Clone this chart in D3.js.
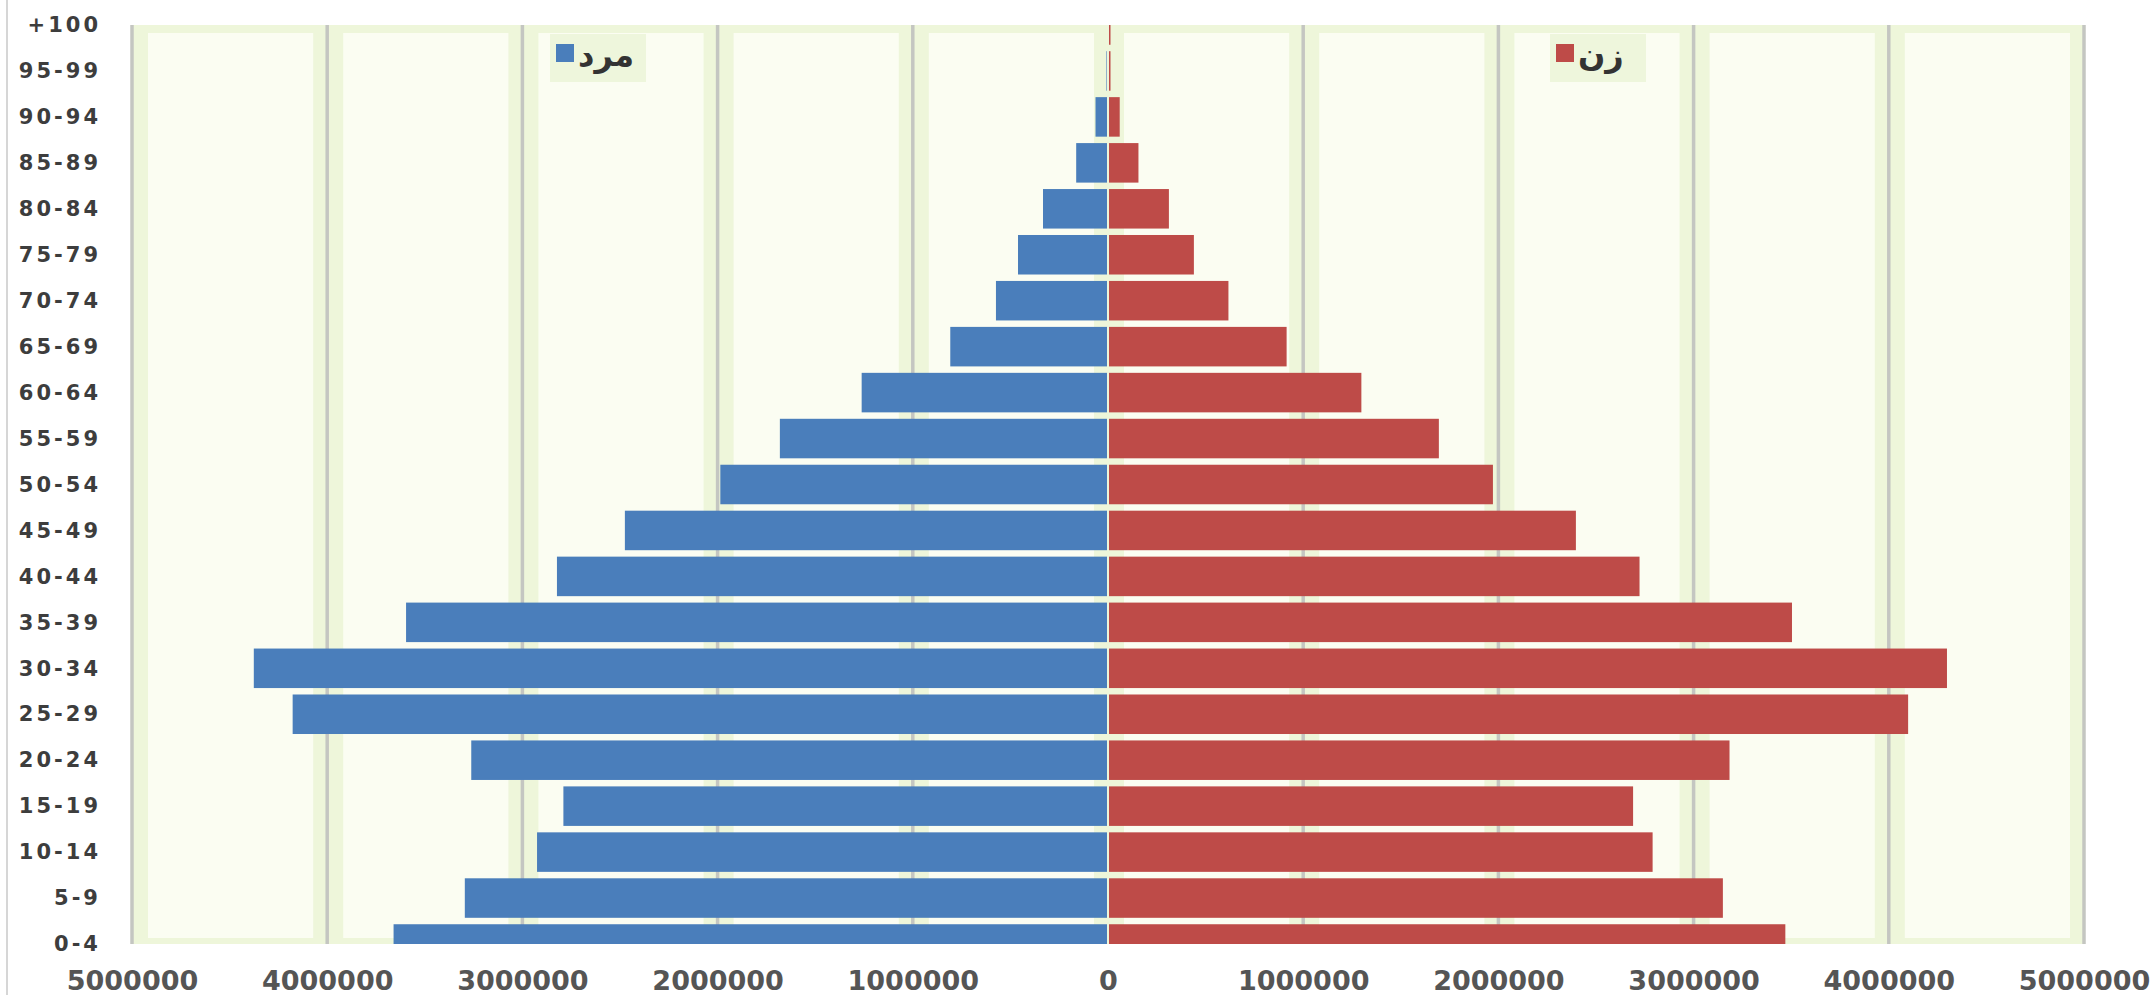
<!DOCTYPE html>
<html>
<head>
<meta charset="utf-8">
<script src="https://cdn.jsdelivr.net/npm/d3@7"></script>
<style>
  body { margin: 0; background: #ffffff; }
  .tick line, .domain { display: none; }
</style>
</head>
<body>
<div class="chart"></div>
<script>
// age groups, bottom to top
var ageGroups = ["0-4", "5-9", "10-14", "15-19", "20-24", "25-29", "30-34", "35-39", "40-44", "45-49",
  "50-54", "55-59", "60-64", "65-69", "70-74", "75-79", "80-84", "85-89", "90-94", "95-99", "+100"];

// male population (left side)
var maleValues = [3660000, 3295000, 2925000, 2790000, 3262000, 4177000, 4376000, 3596000, 2823000, 2475000,
  1986000, 1681000, 1262000, 808000, 574000, 461000, 333000, 163000, 64000, 8000, 2000];

// female population (right side)
var femaleValues = [3470000, 3150000, 2790000, 2690000, 3184000, 4099000, 4298000, 3504000, 2723000, 2397000,
  1972000, 1695000, 1298000, 915000, 617000, 440000, 312000, 156000, 60000, 12000, 10000];

var xTicks = [-5000000, -4000000, -3000000, -2000000, -1000000, 0, 1000000, 2000000, 3000000, 4000000, 5000000];

var legendLabels = ["مرد", "زن"];

var svgWidth = 2153;
var svgHeight = 995;

var plot = { left: 132, right: 2084, top: 25, bottom: 944 };

var svg = d3
  .select(".chart")
  .append("svg")
  .attr("width", svgWidth)
  .attr("height", svgHeight);

// Scales
var xScale = d3.scaleLinear().domain([-5000000, 5000000]).range([plot.left, plot.right]);
var yScale = d3.scalePoint().domain(ageGroups).range([plot.bottom, plot.top]);
var pitch = yScale.step();
var barHeight = pitch * 0.86;

// faint page border on the left
svg.append("line")
  .attr("x1", 7).attr("x2", 7).attr("y1", 0).attr("y2", svgHeight)
  .attr("stroke", "#d6d6d6").attr("stroke-width", 2);

// Plot background
svg.append("rect")
  .attr("x", plot.left).attr("y", plot.top)
  .attr("width", plot.right - plot.left).attr("height", plot.bottom - plot.top)
  .attr("fill", "#eef6da");

// lighter panels between gridlines
for (var i = 0; i < xTicks.length - 1; i++) {
  var a = xScale(xTicks[i]), b = xScale(xTicks[i + 1]);
  svg.append("rect")
    .attr("x", a + 16).attr("y", plot.top + 8)
    .attr("width", b - a - 30).attr("height", plot.bottom - plot.top - 14)
    .attr("fill", "#fbfdf2");
}

// Gridlines
svg.append("g")
  .selectAll("line")
  .data(xTicks.filter(function(d) { return d !== 0; }))
  .enter()
  .append("line")
  .attr("x1", function(d) { return xScale(d); })
  .attr("x2", function(d) { return xScale(d); })
  .attr("y1", plot.top)
  .attr("y2", plot.bottom)
  .attr("stroke", "#c4c6c1")
  .attr("stroke-width", 3.5);

// Clip bars to the plot frame
svg.append("clipPath")
  .attr("id", "plotClip")
  .append("rect")
  .attr("x", plot.left).attr("y", plot.top)
  .attr("width", plot.right - plot.left).attr("height", plot.bottom - plot.top);

var bars = svg.append("g").attr("clip-path", "url(#plotClip)");

bars.selectAll(".male")
  .data(maleValues)
  .enter()
  .append("rect")
  .attr("class", "male")
  .attr("x", function(d) { return xScale(-d); })
  .attr("y", function(d, i) { return yScale(ageGroups[i]) - barHeight / 2; })
  .attr("width", function(d) { return Math.max(0, xScale(0) - 1 - xScale(-d)); })
  .attr("height", barHeight)
  .attr("fill", "#4a7ebb");

bars.selectAll(".female")
  .data(femaleValues)
  .enter()
  .append("rect")
  .attr("class", "female")
  .attr("x", xScale(0) + 1)
  .attr("y", function(d, i) { return yScale(ageGroups[i]) - barHeight / 2; })
  .attr("width", function(d) { return Math.max(1.5, xScale(d) - xScale(0) - 1); })
  .attr("height", barHeight)
  .attr("fill", "#be4b48");

// Y axis (age groups)
var leftAxis = d3.axisLeft(yScale).tickSize(0).tickPadding(0);
svg.append("g")
  .attr("transform", "translate(101,0)")
  .call(leftAxis)
  .selectAll("text")
  .style("font-family", "'DejaVu Sans', Verdana, sans-serif")
  .style("font-weight", "bold")
  .style("font-size", "21px")
  .style("letter-spacing", "3px")
  .attr("fill", "#3d3d3d");

// X axis (absolute values)
var bottomAxis = d3.axisBottom(xScale)
  .tickValues(xTicks)
  .tickSize(0)
  .tickPadding(0)
  .tickFormat(function(d) { return String(Math.abs(d)); });

svg.append("g")
  .attr("transform", "translate(0,971)")
  .call(bottomAxis)
  .selectAll("text")
  .style("font-family", "'DejaVu Sans', Verdana, sans-serif")
  .style("font-weight", "bold")
  .style("font-size", "27px")
  .attr("fill", "#555555");

// Legend
var legendItems = [
  { label: legendLabels[0], color: "#4a7ebb", x: 556 },
  { label: legendLabels[1], color: "#be4b48", x: 1556 }
];

legendItems.forEach(function(item) {
  svg.append("rect")
    .attr("x", item.x - 6).attr("y", 34)
    .attr("width", 96).attr("height", 48)
    .attr("fill", "#eef6dc");
  svg.append("rect")
    .attr("x", item.x).attr("y", 44)
    .attr("width", 18).attr("height", 18)
    .attr("fill", item.color);
  svg.append("text")
    .attr("x", item.x + 22)
    .attr("y", 66)
    .attr("text-anchor", "start")
    .style("font-family", "'DejaVu Sans', 'Noto Sans', sans-serif")
    .style("font-weight", "bold")
    .style("font-size", "32px")
    .attr("fill", "#333333")
    .text(item.label);
});
</script>
</body>
</html>
